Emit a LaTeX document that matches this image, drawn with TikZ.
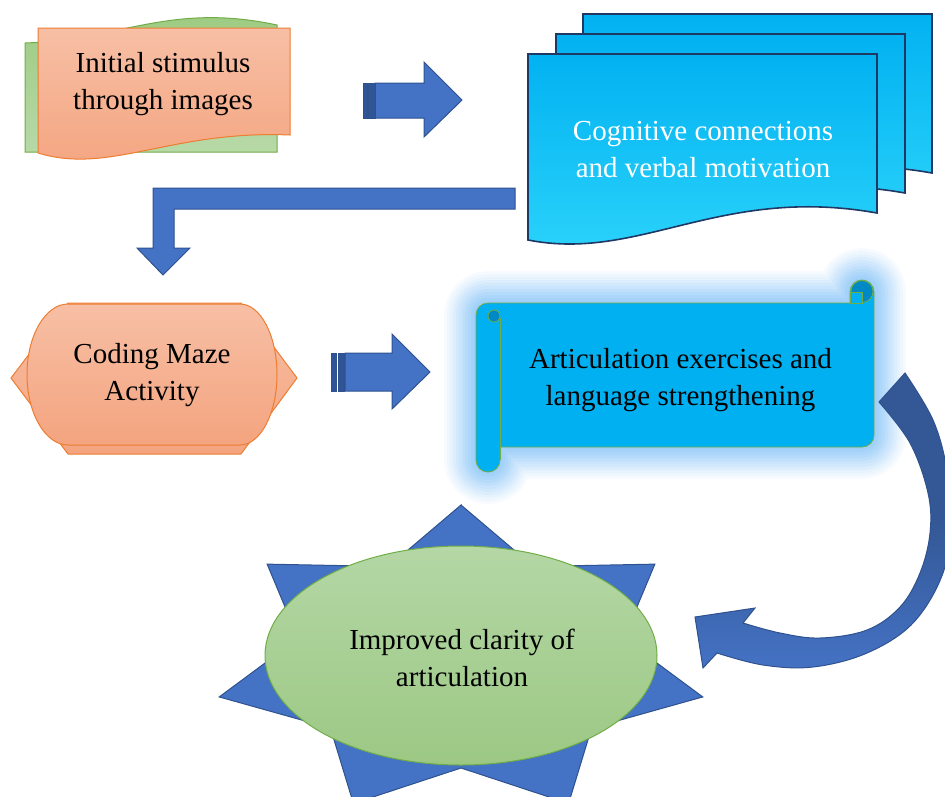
\documentclass[tikz,border=0pt]{standalone}
\usepackage{fontspec}
\setmainfont{Liberation Serif}
\usetikzlibrary{calc}
\definecolor{ablue}{HTML}{4472C4}
\definecolor{ablueline}{HTML}{2F528F}
\definecolor{astripe}{HTML}{2F5597}
\definecolor{orgtop}{HTML}{F7BFA5}
\definecolor{orgbot}{HTML}{F4A47F}
\definecolor{orgline}{HTML}{ED7D31}
\definecolor{grtop}{HTML}{9CCA7F}
\definecolor{grbot}{HTML}{B7D9A7}
\definecolor{grline}{HTML}{70AD47}
\definecolor{eltop}{HTML}{B4D7A5}
\definecolor{elbot}{HTML}{9CC884}
\definecolor{cyanf}{HTML}{00B0F0}
\definecolor{cyantop}{HTML}{02B2F1}
\definecolor{cyanbot}{HTML}{2CD4FB}
\definecolor{navy}{HTML}{203864}
\definecolor{glowc}{HTML}{9ECFF9}
\definecolor{curlc}{HTML}{0089C4}
\definecolor{arrdark}{HTML}{345896}
\definecolor{arrlight}{HTML}{4472C4}
\begin{document}
\begin{tikzpicture}[x=1pt,y=-1pt,
  txt/.style={font=\fontsize{29}{37}\selectfont, align=center, inner sep=0pt},
  blockarrow/.style={fill=ablue, draw=ablueline, line width=1pt, line join=miter},
  stripe/.style={fill=astripe, draw=ablueline, line width=0.6pt},
  orangeshape/.style={top color=orgtop, bottom color=orgbot, draw=orgline, line width=1pt},
  greenshape/.style={top color=grtop, bottom color=grbot, draw=grline, line width=1pt},
  ellshape/.style={top color=eltop, bottom color=elbot, draw=grline, line width=1pt},
  cogsheet/.style={top color=cyantop, bottom color=cyanbot, draw=navy, line width=1.6pt},
  docpath/.style={insert path={(528,54) -- (877,54) -- (877,213) .. controls (720,185) and (640,262) .. (528,240) -- cycle}},
  scrollp/.style={insert path={(476,460) -- (476,315) arc[start angle=180, end angle=90, radius=12pt] -- (850,303) -- (850,292) arc[start angle=180, end angle=0, radius=12pt] -- (874,435) arc[start angle=0, end angle=-90, radius=12pt] -- (500,447) -- (500,460) arc[start angle=0, end angle=-180, radius=12pt] -- cycle}},
  starshape/.style={fill=ablue, draw=ablueline, line width=1pt, line join=miter}
]
\useasboundingbox (0,0) rectangle (945,796);
\clip (0,0) rectangle (945,796);

% Initial stimulus
\path[greenshape] (25,43) .. controls (120,40) and (170,2) .. (277,25) -- (277,152) -- (25,152) -- cycle;
\path[orangeshape] (38,28) -- (290,28) -- (290,135) .. controls (170,130) and (110,175) .. (38,153) -- cycle;

% arrow 1
\path[blockarrow] (375,83) -- (424,83) -- (424,62) -- (462,100) -- (424,137) -- (424,118) -- (375,118) -- cycle;
\path[stripe] (363,83) rectangle (367,118);
\path[stripe] (368.5,83) rectangle (375,118);

% Cognitive stack
\path[cogsheet, shift={(55,-40)}, docpath];
\path[cogsheet, shift={(28,-20)}, docpath];
\path[cogsheet, docpath];

% bent arrow
\path[blockarrow] (515,188) -- (515,209) -- (174,209) -- (174,248) -- (190,248) -- (163,275) -- (137,248) -- (153,248) -- (153,188) -- cycle;

% Coding maze
\path[orangeshape] (68,303) -- (241,303) -- (297,378) -- (241,454) -- (68,454) -- (11,378) -- cycle;
\path[orangeshape] (68,304) -- (240,304) arc[start angle=90, end angle=-90, x radius=37pt, y radius=70.5pt] -- (68,445) arc[start angle=270, end angle=90, x radius=41pt, y radius=70.5pt] -- cycle;

% arrow 2
\path[blockarrow] (345,353) -- (392,353) -- (392,334) -- (430,372) -- (392,409) -- (392,391) -- (345,391) -- cycle;
\path[stripe] (331,353) rectangle (336.5,391);
\path[stripe] (338,353) rectangle (344.5,391);

% scroll glow
\foreach \w/\p in {64/8, 58/16, 52/26, 46/36, 40/46, 34/56, 28/66, 22/76, 16/86, 10/94, 4/100} {
  \path[draw=glowc!\p!white, line width=\w pt, line join=round, fill=glowc, scrollp];
}
% scroll
\path[fill=cyanf, draw=grline, line width=0.8pt, scrollp];
\draw[grline, line width=0.8pt] (500,318) -- (500,460);
\draw[grline, line width=0.8pt, fill=curlc] (494,316) circle[radius=6pt];
\draw[grline, line width=0.8pt, fill=curlc] (862,291.5) circle[radius=11pt];
\path[fill=cyanf, draw=grline, line width=0.8pt] (850.5,292) rectangle (862,303);

% curved arrow
\path[top color=arrdark, bottom color=arrlight, middle color=arrdark, draw=ablueline, line width=1pt]
  (905,373) -- plot[smooth, tension=0.6] coordinates {(905,373) (933,420) (947,470) (950,520) (943,573) (913,623) (867,653) (813,667) (763,665) (717,653)}
  -- (703,668) -- (695,617) -- (755,608)
  -- plot[smooth, tension=0.6] coordinates {(743,623) (780,633) (820,638) (867,630) (900,607) (920,573) (930,533) (928,493) (910,443) (879,402)}
  -- cycle;

% star
\begin{scope}[shift={(461,662)}]
\path[starshape] (90:248pt and 157pt)
  \foreach \k in {0,...,6} { -- ({90+360/7*\k+180/7}:167pt and 106pt) -- ({90+360/7*(\k+1)}:248pt and 157pt) } -- cycle;
\end{scope}
\path[ellshape] (461,655.5) ellipse[x radius=196pt, y radius=109.5pt];

% texts
\node[txt] (t1) at (163,84) {Initial stimulus\\through images};
\node[txt, text=white] (t2) at (703,150) {Cognitive connections\\and verbal motivation};
\node[txt] (t3) at (152,375.5) {Coding Maze\\Activity};
\node[txt] (t4) at (680.5,380.5) {Articulation exercises and\\language strengthening};
\node[txt] (t5) at (462,658) {Improved clarity of\\articulation};
\end{tikzpicture}
\end{document}
